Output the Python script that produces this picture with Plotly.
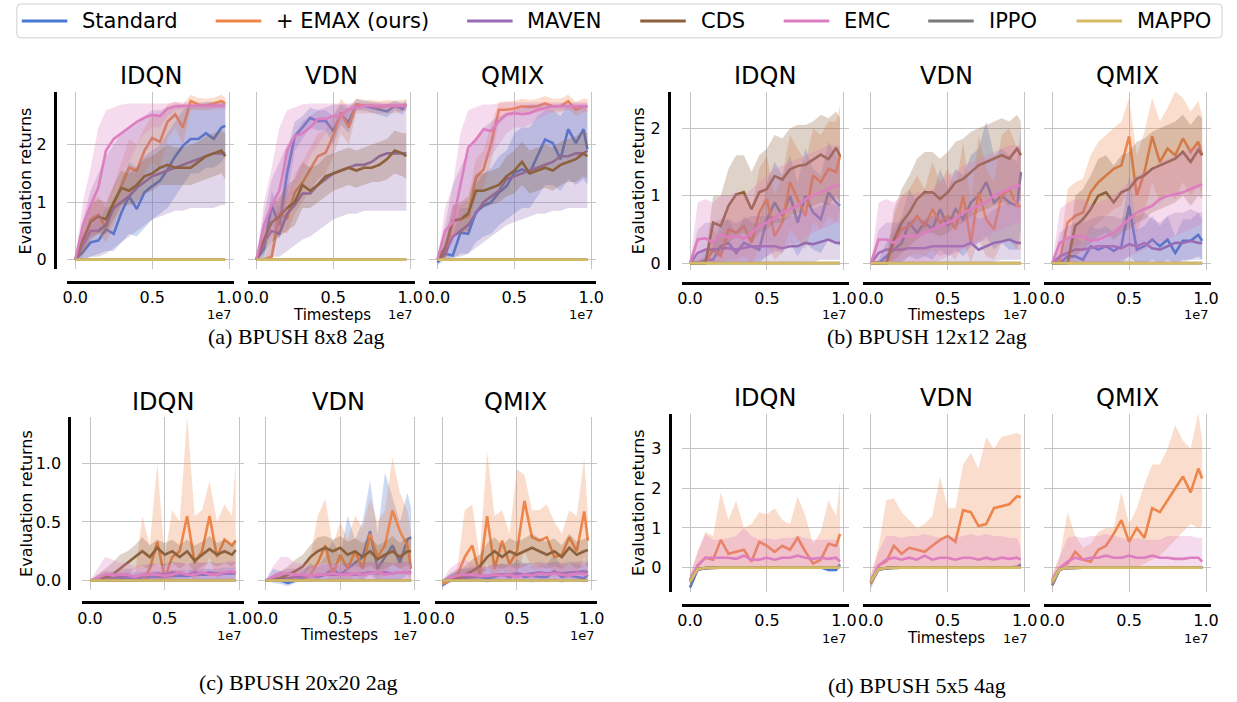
import plotly.graph_objects as go

W, H = 1237, 702

# ---------------- data ----------------
T_MILLIONS = [0, 0.5, 1, 1.5, 2, 2.5, 3, 3.5, 4, 4.5, 5, 5.5, 6, 6.5, 7, 7.5, 8, 8.5, 9, 9.5, 9.75]
TIMESTEPS = [t * 1e6 for t in T_MILLIONS]

SERIES = ["Standard", "+ EMAX (ours)", "MAVEN", "CDS", "EMC", "IPPO", "MAPPO"]
SERIES_KEYS = ["STD", "EMAX", "MAVEN", "CDS", "EMC", "IPPO", "MAPPO"]
ALGOS = ["IDQN", "VDN", "QMIX"]

ZERO = [0] * 21
D_BASE = [-0.35, -0.04, -0.01, 0, 0, 0, 0, 0, 0, 0, 0, 0, 0, 0, 0, 0, 0, 0, 0, 0, 0]
D_BASE_LO = [-0.45, -0.08, -0.03, -0.02, -0.02, -0.02, -0.02, -0.02, -0.02, -0.02, -0.02, -0.02, -0.02, -0.02, -0.02, -0.02, -0.02, -0.02, -0.02, -0.02, -0.02]
D_BASE_HI = [-0.25, 0, 0.01, 0.02, 0.02, 0.02, 0.02, 0.02, 0.02, 0.02, 0.02, 0.02, 0.02, 0.02, 0.02, 0.02, 0.02, 0.02, 0.02, 0.02, 0.02]

# (a) BPUSH 8x8 2ag
A_IDQN_STD = [0, 0.13, 0.3, 0.33, 0.53, 0.45, 0.82, 1.1, 0.88, 1.17, 1.28, 1.37, 1.57, 1.8, 1.98, 2.1, 2.1, 2.2, 2.1, 2.3, 2.33]
A_IDQN_STD_LO = [0, 0, 0.05, 0.1, 0.15, 0.15, 0.3, 0.45, 0.4, 0.55, 0.7, 0.8, 0.9, 1.1, 1.3, 1.5, 1.5, 1.6, 1.6, 1.7, 1.8]
A_IDQN_STD_HI = [0, 0.35, 0.6, 0.7, 0.9, 0.95, 1.4, 1.7, 1.6, 1.8, 1.9, 2.0, 2.2, 2.4, 2.6, 2.7, 2.7, 2.75, 2.75, 2.75, 2.75]
A_IDQN_EMAX = [0, 0.25, 0.7, 0.78, 0.55, 0.95, 1.28, 1.6, 1.55, 1.9, 2.12, 2.05, 2.4, 2.53, 2.3, 2.76, 2.7, 2.68, 2.72, 2.76, 2.72]
A_IDQN_EMAX_LO = [0, 0.05, 0.4, 0.45, 0.3, 0.6, 0.9, 1.1, 1.2, 1.5, 1.7, 1.6, 2.1, 2.3, 2.0, 2.6, 2.6, 2.6, 2.62, 2.65, 2.62]
A_IDQN_EMAX_HI = [0, 0.45, 1.0, 1.1, 0.9, 1.3, 1.7, 2.1, 2.0, 2.3, 2.5, 2.5, 2.7, 2.75, 2.7, 2.87, 2.82, 2.8, 2.82, 2.87, 2.82]
A_IDQN_MAVEN = [0, 0.25, 0.5, 0.5, 0.6, 0.9, 1.0, 1.1, 1.25, 1.35, 1.45, 1.5, 1.55, 1.6, 1.65, 1.7, 1.75, 1.8, 1.85, 1.85, 1.85]
A_IDQN_MAVEN_LO = [0, 0, 0.05, 0.05, 0.1, 0.2, 0.3, 0.4, 0.5, 0.6, 0.7, 0.75, 0.8, 0.85, 0.85, 0.9, 0.9, 0.9, 0.9, 0.95, 0.95]
A_IDQN_MAVEN_HI = [0, 0.7, 1.2, 1.5, 1.8, 2.0, 2.2, 2.3, 2.4, 2.5, 2.6, 2.6, 2.65, 2.7, 2.7, 2.7, 2.7, 2.72, 2.72, 2.72, 2.72]
A_IDQN_CDS = [0, 0.35, 0.65, 0.75, 0.7, 1.0, 1.25, 1.2, 1.3, 1.45, 1.5, 1.6, 1.65, 1.6, 1.6, 1.6, 1.7, 1.8, 1.85, 1.9, 1.8]
A_IDQN_CDS_LO = [0, 0.1, 0.35, 0.45, 0.45, 0.7, 0.95, 0.95, 1.0, 1.15, 1.2, 1.3, 1.3, 1.3, 1.3, 1.3, 1.35, 1.4, 1.45, 1.5, 1.4]
A_IDQN_CDS_HI = [0, 0.6, 0.95, 1.05, 1.0, 1.3, 1.55, 1.5, 1.6, 1.75, 1.8, 1.9, 2.0, 1.95, 1.95, 2.0, 2.05, 2.15, 2.2, 2.25, 2.2]
A_IDQN_EMC = [0, 0.6, 0.95, 1.25, 1.9, 2.1, 2.2, 2.3, 2.4, 2.47, 2.52, 2.5, 2.63, 2.67, 2.68, 2.68, 2.68, 2.68, 2.68, 2.68, 2.68]
A_IDQN_EMC_LO = [0, 0.2, 0.4, 0.5, 0.9, 1.2, 1.5, 1.7, 2.0, 2.2, 2.3, 2.3, 2.5, 2.6, 2.62, 2.62, 2.62, 2.62, 2.62, 2.62, 2.62]
A_IDQN_EMC_HI = [0, 1.0, 1.6, 2.3, 2.6, 2.65, 2.7, 2.72, 2.72, 2.72, 2.72, 2.72, 2.72, 2.74, 2.74, 2.74, 2.74, 2.74, 2.74, 2.74, 2.74]

A_VDN_STD = [0, 0.2, 0.94, 0.6, 1.5, 2.15, 2.3, 2.47, 2.41, 2.42, 2.24, 2.53, 2.39, 2.7, 2.68, 2.65, 2.62, 2.58, 2.68, 2.62, 2.7]
A_VDN_STD_LO = [0, 0.05, 0.6, 0.35, 1.1, 1.9, 2.1, 2.3, 2.25, 2.25, 2.0, 2.35, 2.2, 2.6, 2.6, 2.55, 2.52, 2.48, 2.6, 2.52, 2.62]
A_VDN_STD_HI = [0, 0.4, 1.2, 0.9, 1.9, 2.4, 2.5, 2.65, 2.6, 2.6, 2.5, 2.7, 2.6, 2.8, 2.77, 2.75, 2.72, 2.7, 2.77, 2.72, 2.78]
A_VDN_EMAX = [0, 0, 0.05, 0.8, 0.72, 1.17, 1.34, 1.57, 1.8, 1.86, 2.15, 2.56, 2.3, 2.7, 2.68, 2.68, 2.66, 2.68, 2.67, 2.68, 2.7]
A_VDN_EMAX_LO = [0, 0, 0, 0.5, 0.45, 0.8, 1.0, 1.2, 1.4, 1.5, 1.8, 2.2, 2.0, 2.55, 2.55, 2.55, 2.55, 2.55, 2.55, 2.58, 2.6]
A_VDN_EMAX_HI = [0, 0.05, 0.3, 1.1, 1.1, 1.5, 1.7, 1.95, 2.2, 2.25, 2.5, 2.8, 2.65, 2.8, 2.78, 2.78, 2.76, 2.78, 2.77, 2.78, 2.8]
A_VDN_MAVEN = [0, 0.3, 0.5, 0.45, 0.8, 0.95, 1.15, 1.15, 1.3, 1.4, 1.5, 1.55, 1.6, 1.65, 1.65, 1.7, 1.8, 1.85, 1.85, 1.85, 1.85]
A_VDN_MAVEN_LO = [0, 0, 0.05, 0.05, 0.15, 0.25, 0.35, 0.4, 0.5, 0.6, 0.7, 0.75, 0.8, 0.8, 0.85, 0.85, 0.85, 0.85, 0.85, 0.85, 0.85]
A_VDN_MAVEN_HI = [0, 0.8, 1.4, 1.7, 2.0, 2.2, 2.4, 2.5, 2.6, 2.65, 2.7, 2.7, 2.7, 2.7, 2.7, 2.7, 2.7, 2.72, 2.72, 2.72, 2.72]
A_VDN_CDS = [0, 0.35, 0.65, 0.75, 0.9, 1.0, 1.3, 1.2, 1.3, 1.45, 1.5, 1.55, 1.6, 1.55, 1.6, 1.6, 1.65, 1.75, 1.9, 1.85, 1.8]
A_VDN_CDS_LO = [0, 0.1, 0.3, 0.4, 0.5, 0.6, 0.9, 0.9, 1.0, 1.1, 1.2, 1.25, 1.3, 1.25, 1.3, 1.35, 1.35, 1.4, 1.5, 1.45, 1.4]
A_VDN_CDS_HI = [0, 0.6, 0.95, 1.1, 1.3, 1.4, 1.7, 1.6, 1.65, 1.8, 1.85, 1.9, 1.95, 1.9, 1.95, 2.0, 2.05, 2.1, 2.25, 2.2, 2.2]
A_VDN_EMC = [0, 0.6, 0.95, 1.2, 1.9, 2.15, 2.2, 2.3, 2.45, 2.45, 2.5, 2.5, 2.62, 2.65, 2.68, 2.68, 2.68, 2.68, 2.68, 2.68, 2.68]
A_VDN_EMC_LO = [0, 0.2, 0.4, 0.5, 0.9, 1.3, 1.5, 1.8, 2.0, 2.2, 2.3, 2.35, 2.5, 2.6, 2.62, 2.62, 2.62, 2.62, 2.62, 2.62, 2.62]
A_VDN_EMC_HI = [0, 1.0, 1.6, 2.3, 2.6, 2.65, 2.7, 2.72, 2.72, 2.72, 2.72, 2.72, 2.72, 2.74, 2.74, 2.74, 2.74, 2.74, 2.74, 2.74, 2.74]

A_QMIX_STD = [-0.05, 0.1, 0.07, 0.47, 0.45, 0.82, 0.94, 1.0, 1.17, 1.28, 1.51, 1.57, 1.51, 1.8, 2.09, 2.03, 1.75, 2.27, 2.03, 2.27, 1.92]
A_QMIX_STD_LO = [-0.1, 0, 0, 0.1, 0.1, 0.3, 0.4, 0.45, 0.6, 0.7, 0.8, 0.9, 0.9, 1.1, 1.3, 1.3, 1.2, 1.4, 1.3, 1.4, 1.3]
A_QMIX_STD_HI = [0, 0.3, 0.4, 0.9, 0.9, 1.3, 1.5, 1.6, 1.8, 1.9, 2.2, 2.3, 2.3, 2.5, 2.6, 2.6, 2.5, 2.7, 2.6, 2.7, 2.6]
A_QMIX_EMAX = [0, 0.07, 0.68, 0.7, 0.76, 1.43, 1.57, 2.03, 2.61, 2.61, 2.63, 2.67, 2.66, 2.67, 2.72, 2.67, 2.67, 2.76, 2.61, 2.67, 2.67]
A_QMIX_EMAX_LO = [0, 0, 0.4, 0.45, 0.5, 1.1, 1.25, 1.7, 2.45, 2.5, 2.52, 2.56, 2.55, 2.56, 2.6, 2.56, 2.56, 2.63, 2.5, 2.56, 2.56]
A_QMIX_EMAX_HI = [0, 0.2, 0.95, 0.95, 1.05, 1.75, 1.9, 2.35, 2.75, 2.75, 2.76, 2.8, 2.78, 2.8, 2.85, 2.8, 2.8, 2.87, 2.75, 2.8, 2.8]
A_QMIX_MAVEN = [0, 0.1, 0.4, 0.5, 0.6, 0.8, 1.0, 1.1, 1.2, 1.4, 1.45, 1.5, 1.55, 1.6, 1.65, 1.7, 1.8, 1.8, 1.85, 1.85, 1.9]
A_QMIX_MAVEN_LO = [0, 0, 0.05, 0.05, 0.1, 0.2, 0.3, 0.4, 0.5, 0.6, 0.65, 0.7, 0.75, 0.8, 0.8, 0.85, 0.85, 0.9, 0.9, 0.9, 0.9]
A_QMIX_MAVEN_HI = [0, 0.6, 1.3, 1.6, 1.9, 2.1, 2.3, 2.4, 2.5, 2.55, 2.6, 2.65, 2.7, 2.7, 2.7, 2.7, 2.72, 2.72, 2.72, 2.72, 2.72]
A_QMIX_CDS = [0, 0.2, 0.68, 0.7, 0.8, 1.2, 1.2, 1.25, 1.3, 1.45, 1.55, 1.7, 1.5, 1.55, 1.6, 1.55, 1.65, 1.7, 1.75, 1.85, 1.8]
A_QMIX_CDS_LO = [0, 0.05, 0.4, 0.45, 0.5, 0.85, 0.9, 0.95, 1.0, 1.1, 1.15, 1.3, 1.15, 1.2, 1.25, 1.2, 1.3, 1.35, 1.35, 1.45, 1.4]
A_QMIX_CDS_HI = [0, 0.4, 0.95, 1.0, 1.1, 1.5, 1.5, 1.55, 1.6, 1.8, 1.9, 2.05, 1.9, 1.95, 2.0, 1.95, 2.05, 2.1, 2.15, 2.25, 2.2]
A_QMIX_EMC = [0, 0.5, 0.65, 1.28, 1.95, 2.09, 2.27, 2.24, 2.41, 2.53, 2.55, 2.53, 2.55, 2.61, 2.64, 2.67, 2.67, 2.67, 2.67, 2.67, 2.67]
A_QMIX_EMC_LO = [0, 0.15, 0.3, 0.6, 1.1, 1.4, 1.7, 1.8, 2.0, 2.2, 2.3, 2.3, 2.35, 2.45, 2.5, 2.58, 2.6, 2.6, 2.6, 2.6, 2.6]
A_QMIX_EMC_HI = [0, 0.9, 1.3, 2.2, 2.6, 2.65, 2.7, 2.7, 2.72, 2.74, 2.74, 2.74, 2.74, 2.74, 2.74, 2.74, 2.74, 2.74, 2.74, 2.74, 2.74]

# (b) BPUSH 12x12 2ag
B_IDQN_STD = [0, 0, 0.05, 0.05, 0.25, 0.3, 0.15, 0.3, 0.25, 0.2, 0.65, 0.9, 0.7, 1.0, 0.6, 1.0, 0.75, 0.65, 1.05, 0.9, 0.85]
B_IDQN_STD_LO = [0, 0, 0, 0, 0, 0, 0, 0, 0, 0, 0.1, 0.2, 0.15, 0.3, 0.1, 0.3, 0.2, 0.15, 0.35, 0.3, 0.25]
B_IDQN_STD_HI = [0, 0.1, 0.2, 0.25, 0.6, 0.65, 0.45, 0.7, 0.6, 0.6, 1.2, 1.5, 1.3, 1.6, 1.2, 1.7, 1.4, 1.3, 1.8, 1.6, 1.5]
B_IDQN_EMAX = [0, 0, 0, 0.2, 0.1, 0.5, 0.45, 0.55, 0.3, 0.75, 0.95, 0.4, 0.6, 1.2, 0.95, 0.7, 1.3, 1.2, 1.4, 1.35, 1.6]
B_IDQN_EMAX_LO = [0, 0, 0, 0, 0, 0.05, 0.05, 0.1, 0, 0.2, 0.3, 0.05, 0.15, 0.5, 0.35, 0.2, 0.6, 0.5, 0.7, 0.6, 0.8]
B_IDQN_EMAX_HI = [0, 0.05, 0.1, 0.5, 0.4, 0.9, 1.0, 1.1, 0.8, 1.4, 1.6, 1.0, 1.3, 1.9, 1.7, 1.5, 2.0, 1.9, 2.1, 2.1, 2.35]
B_IDQN_MAVEN = [0, 0.15, 0.2, 0.2, 0.22, 0.22, 0.2, 0.22, 0.25, 0.25, 0.25, 0.25, 0.22, 0.25, 0.25, 0.3, 0.28, 0.32, 0.35, 0.3, 0.3]
B_IDQN_MAVEN_LO = [0, 0, 0, 0, 0, 0, 0, 0, 0, 0, 0, 0, 0, 0, 0, 0.02, 0.02, 0.05, 0.05, 0.05, 0.05]
B_IDQN_MAVEN_HI = [0, 0.5, 0.6, 0.6, 0.65, 0.65, 0.6, 0.65, 0.7, 0.7, 0.7, 0.7, 0.65, 0.7, 0.7, 0.8, 0.8, 0.85, 0.9, 0.85, 0.85]
B_IDQN_CDS = [0, 0, 0, 0.6, 0.55, 0.85, 1.02, 1.05, 0.8, 1.05, 1.1, 1.29, 1.24, 1.39, 1.44, 1.46, 1.54, 1.61, 1.54, 1.71, 1.59]
B_IDQN_CDS_LO = [0, 0, 0, 0.15, 0.1, 0.3, 0.4, 0.45, 0.3, 0.45, 0.5, 0.6, 0.6, 0.7, 0.75, 0.8, 0.85, 0.9, 0.85, 1.0, 0.9]
B_IDQN_CDS_HI = [0, 0, 0.05, 1.0, 1.0, 1.4, 1.6, 1.6, 1.35, 1.6, 1.7, 1.9, 1.85, 2.0, 2.05, 2.05, 2.1, 2.2, 2.15, 2.25, 2.15]
B_IDQN_EMC = [0, 0.35, 0.37, 0.3, 0.42, 0.38, 0.4, 0.36, 0.45, 0.55, 0.6, 0.68, 0.75, 0.8, 0.85, 0.95, 1.0, 1.05, 1.1, 1.15, 1.15]
B_IDQN_EMC_LO = [0, 0, 0, 0, 0, 0, 0, 0, 0, 0.05, 0.1, 0.15, 0.2, 0.25, 0.3, 0.4, 0.45, 0.5, 0.55, 0.6, 0.6]
B_IDQN_EMC_HI = [0, 0.9, 0.95, 0.9, 1.0, 1.0, 1.05, 1.0, 1.1, 1.2, 1.3, 1.4, 1.45, 1.5, 1.55, 1.6, 1.65, 1.7, 1.75, 1.75, 1.75]

B_VDN_STD = [0, 0, 0.1, 0.2, 0.3, 0.6, 0.45, 0.6, 0.5, 0.8, 0.55, 0.8, 0.65, 0.9, 1.0, 1.2, 0.9, 1.0, 0.9, 0.85, 1.35]
B_VDN_STD_LO = [0, 0, 0, 0, 0, 0.1, 0.05, 0.1, 0.05, 0.2, 0.1, 0.2, 0.1, 0.25, 0.3, 0.4, 0.2, 0.3, 0.2, 0.2, 0.5]
B_VDN_STD_HI = [0, 0.05, 0.3, 0.5, 0.7, 1.1, 0.9, 1.1, 1.0, 1.4, 1.1, 1.4, 1.3, 1.6, 1.7, 2.1, 1.6, 1.7, 1.6, 1.5, 2.0]
B_VDN_EMAX = [0, 0, 0, 0.3, 0.5, 0.55, 0.7, 0.55, 0.8, 0.6, 0.7, 0.5, 1.0, 0.3, 1.05, 0.65, 0.5, 1.0, 1.1, 0.85, 0.85]
B_VDN_EMAX_LO = [0, 0, 0, 0, 0.05, 0.1, 0.15, 0.1, 0.2, 0.1, 0.15, 0.05, 0.3, 0, 0.35, 0.1, 0.05, 0.3, 0.35, 0.2, 0.2]
B_VDN_EMAX_HI = [0, 0, 0.05, 0.7, 1.0, 1.1, 1.3, 1.1, 1.5, 1.2, 1.4, 1.1, 1.8, 0.9, 1.9, 1.4, 1.2, 1.9, 2.0, 1.7, 1.7]
B_VDN_MAVEN = [0, 0.15, 0.2, 0.2, 0.2, 0.22, 0.22, 0.22, 0.25, 0.25, 0.25, 0.25, 0.25, 0.3, 0.2, 0.25, 0.3, 0.32, 0.35, 0.3, 0.3]
B_VDN_MAVEN_LO = [0, 0, 0, 0, 0, 0, 0, 0, 0, 0, 0, 0, 0, 0.02, 0, 0, 0.02, 0.05, 0.05, 0.05, 0.05]
B_VDN_MAVEN_HI = [0, 0.5, 0.6, 0.6, 0.6, 0.65, 0.65, 0.65, 0.7, 0.7, 0.7, 0.7, 0.7, 0.8, 0.65, 0.7, 0.8, 0.85, 0.9, 0.85, 0.85]
B_VDN_CDS = [0, 0, 0, 0.35, 0.6, 0.75, 0.95, 1.05, 1.05, 0.95, 1.05, 1.2, 1.25, 1.35, 1.45, 1.5, 1.55, 1.6, 1.55, 1.7, 1.6]
B_VDN_CDS_LO = [0, 0, 0, 0.05, 0.15, 0.25, 0.35, 0.45, 0.45, 0.4, 0.45, 0.55, 0.6, 0.7, 0.75, 0.8, 0.85, 0.9, 0.85, 1.0, 0.9]
B_VDN_CDS_HI = [0, 0, 0.05, 0.8, 1.1, 1.3, 1.55, 1.65, 1.65, 1.55, 1.65, 1.8, 1.85, 1.95, 2.0, 2.05, 2.1, 2.15, 2.1, 2.2, 2.1]
B_VDN_EMC = [0, 0.35, 0.35, 0.3, 0.4, 0.4, 0.4, 0.45, 0.5, 0.55, 0.6, 0.65, 0.75, 0.8, 0.85, 0.9, 1.0, 1.05, 1.1, 1.15, 1.15]
B_VDN_EMC_LO = [0, 0, 0, 0, 0, 0, 0, 0, 0, 0.05, 0.1, 0.15, 0.2, 0.25, 0.3, 0.35, 0.45, 0.5, 0.55, 0.6, 0.6]
B_VDN_EMC_HI = [0, 0.9, 0.95, 0.9, 1.0, 1.0, 1.05, 1.05, 1.1, 1.2, 1.3, 1.35, 1.45, 1.5, 1.55, 1.6, 1.65, 1.7, 1.75, 1.75, 1.75]

B_QMIX_STD = [0, 0, 0.1, 0.1, 0.05, 0.25, 0.2, 0.25, 0.18, 0.25, 0.85, 0.2, 0.25, 0.35, 0.25, 0.35, 0.15, 0.33, 0.33, 0.42, 0.33]
B_QMIX_STD_LO = [0, 0, 0, 0, 0, 0, 0, 0, 0, 0, 0.1, 0, 0, 0.05, 0, 0.05, 0, 0.05, 0.05, 0.1, 0.05]
B_QMIX_STD_HI = [0, 0.05, 0.4, 0.4, 0.3, 0.55, 0.5, 0.55, 0.45, 0.55, 1.3, 0.5, 0.55, 0.7, 0.55, 0.7, 0.4, 0.65, 0.65, 0.75, 0.65]
B_QMIX_EMAX = [0, 0.05, 0.6, 0.7, 0.75, 1.05, 1.2, 1.3, 1.4, 1.45, 1.88, 1.0, 1.35, 1.88, 1.5, 1.7, 1.6, 1.85, 1.65, 1.8, 1.6]
B_QMIX_EMAX_LO = [0, 0, 0.15, 0.25, 0.3, 0.5, 0.6, 0.7, 0.8, 0.85, 1.2, 0.45, 0.75, 1.2, 0.9, 1.05, 0.95, 1.2, 1.0, 1.15, 1.0]
B_QMIX_EMAX_HI = [0, 0.15, 1.1, 1.2, 1.25, 1.6, 1.8, 1.9, 2.0, 2.1, 2.45, 1.6, 1.95, 2.45, 2.1, 2.3, 2.55, 2.45, 2.25, 2.4, 2.2]
B_QMIX_MAVEN = [0, 0.1, 0.15, 0.2, 0.2, 0.22, 0.25, 0.25, 0.25, 0.22, 0.28, 0.25, 0.3, 0.22, 0.2, 0.25, 0.3, 0.3, 0.33, 0.3, 0.3]
B_QMIX_MAVEN_LO = [0, 0, 0, 0, 0, 0, 0, 0, 0, 0, 0, 0, 0, 0, 0, 0, 0.02, 0.02, 0.05, 0.05, 0.05]
B_QMIX_MAVEN_HI = [0, 0.45, 0.55, 0.6, 0.6, 0.65, 0.7, 0.7, 0.7, 0.65, 0.75, 0.7, 0.75, 0.65, 0.6, 0.7, 0.75, 0.75, 0.8, 0.75, 0.75]
B_QMIX_CDS = [0, 0, 0, 0.55, 0.65, 0.8, 1.0, 1.05, 0.9, 1.05, 1.1, 1.25, 1.3, 1.4, 1.45, 1.5, 1.55, 1.65, 1.5, 1.68, 1.6]
B_QMIX_CDS_LO = [0, 0, 0, 0.1, 0.2, 0.3, 0.4, 0.45, 0.35, 0.45, 0.5, 0.6, 0.65, 0.75, 0.8, 0.85, 0.9, 1.0, 0.85, 1.0, 0.95]
B_QMIX_CDS_HI = [0, 0, 0.05, 1.0, 1.1, 1.3, 1.55, 1.6, 1.45, 1.6, 1.65, 1.8, 1.85, 1.95, 2.0, 2.05, 2.1, 2.2, 2.05, 2.2, 2.15]
B_QMIX_EMC = [0, 0.3, 0.37, 0.4, 0.4, 0.33, 0.35, 0.4, 0.45, 0.55, 0.65, 0.75, 0.8, 0.85, 0.95, 1.0, 1.02, 1.05, 1.1, 1.15, 1.17]
B_QMIX_EMC_LO = [0, 0, 0, 0, 0, 0, 0, 0, 0, 0.05, 0.1, 0.15, 0.2, 0.25, 0.3, 0.35, 0.4, 0.45, 0.5, 0.55, 0.6]
B_QMIX_EMC_HI = [0, 0.8, 0.9, 0.95, 0.95, 0.85, 0.9, 0.95, 1.0, 1.1, 1.2, 1.3, 1.35, 1.4, 1.5, 1.55, 1.6, 1.65, 1.7, 1.75, 1.75]

# (c) BPUSH 20x20 2ag
C_IDQN_STD = [0, 0, 0, 0.01, 0.01, 0.02, 0.02, 0.02, 0.03, 0.03, 0.03, 0.04, 0.04, 0.04, 0.05, 0.05, 0.05, 0.05, 0.06, 0.06, 0.06]
C_IDQN_STD_HI = [0, 0.03, 0.05, 0.06, 0.06, 0.07, 0.07, 0.07, 0.08, 0.08, 0.08, 0.09, 0.09, 0.09, 0.1, 0.1, 0.1, 0.1, 0.11, 0.11, 0.11]
C_IDQN_EMAX = [0, 0, 0, 0, 0, 0, 0, 0, 0.1, 0.33, 0.02, 0.2, 0.25, 0.55, 0.15, 0.25, 0.55, 0.2, 0.35, 0.3, 0.34]
C_IDQN_EMAX_LO = [0, 0, 0, 0, 0, 0, 0, 0, 0, 0, 0, 0, 0.05, 0.1, 0, 0.05, 0.2, 0, 0.1, 0.1, 0.1]
C_IDQN_EMAX_HI = [0, 0, 0, 0, 0, 0, 0.05, 0.55, 0.3, 1.0, 0.2, 0.6, 0.5, 1.4, 0.55, 0.6, 0.85, 0.5, 0.65, 0.55, 1.02]
C_IDQN_MAVEN = [0, 0.01, 0.02, 0.02, 0.03, 0.03, 0.03, 0.04, 0.05, 0.06, 0.05, 0.07, 0.06, 0.05, 0.07, 0.06, 0.07, 0.06, 0.06, 0.07, 0.07]
C_IDQN_MAVEN_HI = [0, 0.05, 0.08, 0.08, 0.1, 0.1, 0.1, 0.12, 0.14, 0.15, 0.14, 0.16, 0.15, 0.14, 0.16, 0.15, 0.16, 0.15, 0.15, 0.16, 0.16]
C_IDQN_CDS = [0, 0.01, 0.03, 0.05, 0.1, 0.15, 0.2, 0.25, 0.2, 0.28, 0.22, 0.25, 0.2, 0.25, 0.17, 0.22, 0.27, 0.22, 0.25, 0.22, 0.26]
C_IDQN_CDS_LO = [0, 0, 0, 0, 0, 0.05, 0.1, 0.12, 0.1, 0.15, 0.12, 0.15, 0.1, 0.15, 0.08, 0.12, 0.15, 0.12, 0.15, 0.12, 0.15]
C_IDQN_CDS_HI = [0, 0.05, 0.1, 0.15, 0.22, 0.25, 0.3, 0.37, 0.3, 0.35, 0.32, 0.35, 0.3, 0.35, 0.3, 0.33, 0.38, 0.32, 0.35, 0.3, 0.36]
C_IDQN_EMC = [0, 0.02, 0.05, 0.05, 0.05, 0.05, 0.03, 0.05, 0.05, 0.05, 0.04, 0.05, 0.07, 0.05, 0.05, 0.07, 0.05, 0.05, 0.07, 0.08, 0.06]
C_IDQN_EMC_HI = [0, 0.1, 0.2, 0.18, 0.15, 0.15, 0.12, 0.14, 0.14, 0.14, 0.12, 0.14, 0.16, 0.14, 0.14, 0.16, 0.14, 0.14, 0.16, 0.17, 0.15]

C_VDN_STD = [0, 0.02, 0, -0.02, 0, 0.02, 0.05, 0.03, 0.05, 0.1, 0.05, 0.1, 0.15, 0.2, 0.42, 0.1, 0.2, 0.3, 0.15, 0.35, 0.37]
C_VDN_STD_LO = [0, -0.02, -0.03, -0.05, -0.02, 0, 0, 0, 0, 0, 0, 0, 0, 0, 0.05, 0, 0, 0, 0, 0.05, 0.05]
C_VDN_STD_HI = [0, 0.1, 0.08, 0.03, 0.05, 0.08, 0.15, 0.12, 0.2, 0.35, 0.2, 0.55, 0.35, 0.5, 0.85, 0.4, 0.92, 0.7, 0.5, 0.75, 0.62]
C_VDN_EMAX = [0, 0, 0, 0, 0, 0, 0.05, 0.15, 0.3, 0.05, 0.22, 0.1, 0.25, 0.1, 0.4, 0.2, 0.3, 0.6, 0.42, 0.3, 0.1]
C_VDN_EMAX_LO = [0, 0, 0, 0, 0, 0, 0, 0, 0.05, 0, 0.02, 0, 0.05, 0, 0.1, 0, 0.05, 0.15, 0.1, 0.05, 0]
C_VDN_EMAX_HI = [0, 0, 0, 0, 0, 0.05, 0.2, 0.55, 0.7, 0.3, 0.5, 0.35, 0.55, 0.45, 0.7, 0.5, 0.6, 1.05, 0.75, 0.6, 0.4]
C_VDN_MAVEN = [0, 0.01, 0.02, 0.02, 0.03, 0.03, 0.04, 0.04, 0.05, 0.05, 0.05, 0.06, 0.05, 0.06, 0.07, 0.06, 0.07, 0.06, 0.07, 0.07, 0.07]
C_VDN_MAVEN_HI = [0, 0.05, 0.08, 0.1, 0.1, 0.1, 0.12, 0.12, 0.14, 0.14, 0.14, 0.15, 0.14, 0.15, 0.16, 0.15, 0.16, 0.15, 0.16, 0.16, 0.16]
C_VDN_CDS = [0, 0, 0.02, 0.05, 0.08, 0.12, 0.2, 0.25, 0.28, 0.25, 0.28, 0.22, 0.25, 0.2, 0.25, 0.18, 0.22, 0.25, 0.2, 0.25, 0.25]
C_VDN_CDS_LO = [0, 0, 0, 0, 0, 0.04, 0.1, 0.13, 0.15, 0.13, 0.15, 0.1, 0.13, 0.1, 0.13, 0.08, 0.1, 0.13, 0.1, 0.13, 0.13]
C_VDN_CDS_HI = [0, 0.05, 0.08, 0.12, 0.18, 0.22, 0.3, 0.37, 0.38, 0.35, 0.38, 0.33, 0.36, 0.32, 0.37, 0.3, 0.33, 0.38, 0.32, 0.37, 0.36]
C_VDN_EMC = [0, 0.03, 0.06, 0.06, 0.05, 0.05, 0.04, 0.05, 0.05, 0.06, 0.05, 0.05, 0.06, 0.05, 0.06, 0.07, 0.05, 0.06, 0.07, 0.07, 0.06]
C_VDN_EMC_HI = [0, 0.12, 0.2, 0.2, 0.15, 0.14, 0.12, 0.14, 0.14, 0.15, 0.14, 0.14, 0.15, 0.14, 0.15, 0.16, 0.14, 0.15, 0.16, 0.16, 0.15]

C_QMIX_STD = [-0.04, 0, 0.02, 0.02, 0.03, 0.03, 0.02, 0.03, 0.05, 0.03, 0.06, 0.03, 0.04, 0.03, 0.03, 0.08, 0.03, 0.04, 0.03, 0.02, 0.05]
C_QMIX_STD_LO = [-0.06, -0.02, 0, 0, 0, 0, -0.02, 0, 0, 0, 0, 0, -0.02, 0, 0, 0, -0.02, 0, 0, -0.02, 0]
C_QMIX_STD_HI = [0, 0.05, 0.08, 0.1, 0.1, 0.1, 0.1, 0.12, 0.15, 0.12, 0.18, 0.15, 0.15, 0.12, 0.14, 0.22, 0.12, 0.15, 0.14, 0.12, 0.16]
C_QMIX_EMAX = [-0.03, 0, 0.04, 0.2, 0.3, 0.05, 0.55, 0.1, 0.34, 0.14, 0.25, 0.68, 0.37, 0.34, 0.37, 0.2, 0.22, 0.37, 0.25, 0.59, 0.34]
C_QMIX_EMAX_LO = [-0.04, 0, 0, 0.05, 0.1, 0, 0.15, 0, 0.1, 0, 0.05, 0.25, 0.1, 0.1, 0.15, 0.05, 0.05, 0.1, 0.05, 0.2, 0.1]
C_QMIX_EMAX_HI = [0, 0.02, 0.1, 0.6, 0.65, 0.2, 1.1, 0.55, 0.6, 0.4, 0.95, 0.9, 0.6, 0.6, 0.65, 0.5, 0.4, 0.6, 0.55, 1.05, 0.55]
C_QMIX_MAVEN = [0, 0.01, 0.02, 0.03, 0.03, 0.04, 0.04, 0.05, 0.05, 0.05, 0.06, 0.05, 0.06, 0.07, 0.06, 0.07, 0.06, 0.07, 0.07, 0.08, 0.07]
C_QMIX_MAVEN_HI = [0, 0.06, 0.1, 0.1, 0.12, 0.12, 0.12, 0.14, 0.14, 0.14, 0.15, 0.14, 0.15, 0.16, 0.15, 0.16, 0.15, 0.16, 0.16, 0.17, 0.16]
C_QMIX_CDS = [0, 0.01, 0.02, 0.05, 0.08, 0.12, 0.2, 0.25, 0.2, 0.25, 0.22, 0.25, 0.28, 0.25, 0.22, 0.25, 0.2, 0.28, 0.22, 0.25, 0.26]
C_QMIX_CDS_LO = [0, 0, 0, 0, 0, 0.03, 0.1, 0.12, 0.1, 0.12, 0.1, 0.12, 0.15, 0.12, 0.1, 0.12, 0.1, 0.15, 0.1, 0.12, 0.13]
C_QMIX_CDS_HI = [0, 0.05, 0.08, 0.12, 0.18, 0.22, 0.32, 0.37, 0.3, 0.36, 0.33, 0.36, 0.4, 0.36, 0.33, 0.36, 0.3, 0.4, 0.33, 0.36, 0.37]
C_QMIX_EMC = [0, 0.02, 0.04, 0.05, 0.05, 0.04, 0.04, 0.05, 0.04, 0.05, 0.03, 0.05, 0.04, 0.06, 0.05, 0.06, 0.05, 0.04, 0.06, 0.05, 0.05]
C_QMIX_EMC_HI = [0, 0.1, 0.15, 0.18, 0.15, 0.12, 0.12, 0.14, 0.12, 0.14, 0.12, 0.14, 0.12, 0.15, 0.14, 0.15, 0.14, 0.12, 0.15, 0.14, 0.14]

# (d) BPUSH 5x5 4ag
D_IDQN_STD = [-0.5, -0.05, -0.02, 0, 0, 0, 0, 0, 0, 0, 0, 0, 0, 0, 0, 0, 0, 0, -0.05, -0.05, 0.08]
D_IDQN_STD_LO = [-0.6, -0.1, -0.05, -0.02, -0.02, -0.02, -0.02, -0.02, -0.02, -0.02, -0.02, -0.02, -0.02, -0.02, -0.02, -0.02, -0.02, -0.02, -0.12, -0.12, 0.02]
D_IDQN_STD_HI = [-0.35, 0, 0.01, 0.02, 0.02, 0.02, 0.02, 0.02, 0.02, 0.02, 0.02, 0.02, 0.02, 0.02, 0.02, 0.02, 0.02, 0.02, 0.02, 0.02, 0.12]
D_IDQN_EMAX = [-0.35, 0.05, 0.25, 0.2, 0.7, 0.35, 0.4, 0.45, 0.15, 0.65, 0.55, 0.4, 0.55, 0.45, 0.75, 0.4, 0.1, 0.2, 0.6, 0.55, 0.85]
D_IDQN_EMAX_LO = [-0.5, -0.1, 0, -0.05, 0, 0, 0, 0, 0, 0, 0, 0, 0, 0, 0, 0, 0, 0, 0, 0, 0]
D_IDQN_EMAX_HI = [-0.2, 0.4, 0.9, 0.8, 1.9, 1.2, 1.7, 1.0, 1.1, 1.4, 1.35, 1.5, 1.2, 1.1, 1.8, 1.3, 0.6, 0.9, 1.7, 1.3, 2.2]
D_IDQN_EMC = [-0.3, 0.05, 0.25, 0.25, 0.25, 0.25, 0.22, 0.3, 0.2, 0.2, 0.25, 0.2, 0.25, 0.25, 0.3, 0.25, 0.22, 0.25, 0.22, 0.25, 0.15]
D_IDQN_EMC_LO = [-0.45, -0.1, 0, 0, 0, 0, 0, 0, 0, 0, 0, 0, 0, 0, 0, 0, 0, 0, 0, 0, 0]
D_IDQN_EMC_HI = [-0.2, 0.4, 0.85, 0.7, 0.7, 0.75, 0.8, 1.0, 0.8, 0.7, 0.75, 0.7, 0.75, 0.75, 0.8, 0.75, 0.7, 0.7, 0.7, 0.7, 0.5]

D_VDN_STD = [-0.4, -0.05, -0.02, 0, 0, 0, 0, 0, 0, 0, 0, 0, 0, 0, 0, 0, 0, 0, 0, 0.02, 0.08]
D_VDN_STD_LO = [-0.5, -0.1, -0.05, -0.02, -0.02, -0.02, -0.02, -0.02, -0.02, -0.02, -0.02, -0.02, -0.02, -0.02, -0.02, -0.02, -0.02, -0.02, -0.02, -0.02, 0.02]
D_VDN_STD_HI = [-0.3, 0, 0.01, 0.02, 0.02, 0.02, 0.02, 0.02, 0.02, 0.02, 0.02, 0.02, 0.02, 0.02, 0.02, 0.02, 0.02, 0.02, 0.02, 0.05, 0.12]
D_VDN_EMAX = [-0.4, 0.05, 0.15, 0.55, 0.35, 0.5, 0.45, 0.4, 0.55, 0.7, 0.8, 0.65, 1.45, 1.4, 1.05, 1.1, 1.5, 1.55, 1.6, 1.8, 1.78]
D_VDN_EMAX_LO = [-0.55, -0.1, -0.05, 0, 0, 0, 0, 0, 0, 0, 0, 0, 0, 0, 0, 0, 0, 0, 0, 0, 0]
D_VDN_EMAX_HI = [-0.2, 0.5, 1.7, 1.75, 1.4, 1.2, 1.0, 1.1, 1.3, 2.3, 1.5, 1.5, 2.6, 2.9, 2.5, 3.3, 3.0, 3.3, 3.35, 3.4, 3.35]
D_VDN_EMC = [-0.35, 0.05, 0.2, 0.25, 0.2, 0.25, 0.2, 0.3, 0.2, 0.25, 0.25, 0.2, 0.25, 0.25, 0.2, 0.25, 0.2, 0.25, 0.22, 0.25, 0.2]
D_VDN_EMC_LO = [-0.45, -0.1, 0, 0, 0, 0, 0, 0, 0, 0, 0, 0, 0, 0, 0, 0, 0, 0, 0, 0, 0]
D_VDN_EMC_HI = [-0.2, 0.4, 0.8, 0.8, 0.75, 0.8, 0.8, 0.85, 0.8, 0.75, 0.8, 0.75, 0.8, 0.85, 0.8, 0.85, 0.8, 0.8, 0.75, 0.75, 0.5]

D_QMIX_STD = [-0.45, -0.04, -0.01, 0, 0, 0, 0, 0, 0, 0, 0, 0, 0, 0, 0, 0, 0, 0, 0, 0, 0]
D_QMIX_EMAX = [-0.4, 0, 0.1, 0.4, 0.2, 0.15, 0.45, 0.55, 0.85, 1.2, 0.65, 1.0, 0.75, 1.5, 1.4, 1.7, 2.0, 2.3, 1.9, 2.5, 2.25]
D_QMIX_EMAX_LO = [-0.55, -0.1, 0, 0, 0, 0, 0, 0, 0, 0, 0, 0, 0.1, 0.2, 0.3, 0.5, 0.7, 0.9, 1.1, 1.0, 1.05]
D_QMIX_EMAX_HI = [-0.2, 0.3, 1.4, 0.8, 0.5, 0.6, 0.9, 1.0, 1.0, 1.9, 1.1, 1.5, 2.1, 2.6, 2.6, 3.0, 3.6, 3.2, 3.0, 3.9, 3.2]
D_QMIX_EMC = [-0.3, 0, 0.15, 0.25, 0.2, 0.25, 0.25, 0.3, 0.25, 0.25, 0.3, 0.25, 0.25, 0.3, 0.25, 0.25, 0.22, 0.22, 0.25, 0.25, 0.15]
D_QMIX_EMC_LO = [-0.45, -0.1, 0, 0, 0, 0, 0, 0, 0, 0, 0, 0, 0, 0, 0, 0, 0, 0, 0, 0, 0]
D_QMIX_EMC_HI = [-0.2, 0.3, 0.75, 0.8, 0.75, 0.8, 0.8, 0.85, 0.8, 0.75, 0.7, 0.75, 0.7, 0.7, 0.7, 0.8, 0.8, 0.8, 0.8, 0.75, 0.75]

Y_TICKS_AB = [0, 1, 2]
Y_TICKS_C = [0, 0.5, 1.0]
Y_TICKS_D = [0, 1, 2, 3]
X_TICKS = [0, 5e6, 1e7]
X_TICK_TEXT = ["0.0", "0.5", "1.0"]

# ---------------- styling / layout ----------------
COLORS = ["#4878d0", "#ee854a", "#956cb4", "#8c613c", "#dc7ec0", "#797979", "#d5bb67"]
FONT = "DejaVu Sans"
SERIF = "Liberation Serif"
GRID = "#c4c4c4"

GROUPS = [
    dict(key="A", caption="(a) BPUSH 8x8 2ag", lefts=[62.9, 245.9, 428.9], width=168.7,
         top=92.3, bottom=270.5, yr=[-0.17, 2.92], yt=Y_TICKS_AB, ytt=["0", "1", "2"],
         spine_y=283.5, spine_x=50.5, ylab_x=21, title_y=76, xlab_y=316, e7_y=316, cap=(295, 338)),
    dict(key="B", caption="(b) BPUSH 12x12 2ag", lefts=[684.2, 867.0, 1050.2], width=168.7,
         top=92.3, bottom=271, yr=[-0.10, 2.54], yt=Y_TICKS_AB, ytt=["0", "1", "2"],
         spine_y=284, spine_x=671, ylab_x=641, title_y=76, xlab_y=316, e7_y=316, cap=(932, 338)),
    dict(key="C", caption="(c) BPUSH 20x20 2ag", lefts=[78.1, 255.4, 434.1], width=163.8,
         top=418.3, bottom=592.3, yr=[-0.079, 1.40], yt=Y_TICKS_C, ytt=["0.0", "0.5", "1.0"],
         spine_y=605, spine_x=65, ylab_x=21, title_y=404, xlab_y=638, e7_y=638, cap=(297, 685)),
    dict(key="D", caption="(d) BPUSH 5x5 4ag", lefts=[684.2, 866.9, 1050.2], width=168.7,
         top=415.7, bottom=594.3, yr=[-0.61, 3.88], yt=Y_TICKS_D, ytt=["0", "1", "2", "3"],
         spine_y=607.3, spine_x=671.7, ylab_x=641, title_y=400, xlab_y=641, e7_y=641, cap=(922, 688)),
]
X_RANGE = [-0.52e6, 10.33e6]


def px(x):
    return x / W


def py(y):
    return 1 - y / H


def rgba(hex_color, a):
    h = hex_color.lstrip("#")
    return "rgba(%d,%d,%d,%.2f)" % (int(h[0:2], 16), int(h[2:4], 16), int(h[4:6], 16), a)


def lookup(name):
    return globals().get(name)


fig = go.Figure()
layout = dict(width=W, height=H, margin=dict(l=0, r=0, t=0, b=0),
              paper_bgcolor="white", plot_bgcolor="white", showlegend=False,
              font=dict(family=FONT, color="black"))
annotations = []
shapes = []

n = 0
for g in GROUPS:
    for p, algo in enumerate(ALGOS):
        n += 1
        xa = "x" if n == 1 else "x%d" % n
        ya = "y" if n == 1 else "y%d" % n
        for s, (label, key) in enumerate(zip(SERIES, SERIES_KEYS)):
            base = "%s_%s_%s" % (g["key"], algo, key)
            mean = lookup(base)
            lo = lookup(base + "_LO")
            hi = lookup(base + "_HI")
            if mean is None:
                if g["key"] == "D":
                    mean, lo, hi = D_BASE, D_BASE_LO, D_BASE_HI
                else:
                    mean = ZERO
            if hi is not None:
                if lo is None:
                    lo = ZERO
                fig.add_trace(go.Scatter(
                    x=TIMESTEPS + TIMESTEPS[::-1], y=list(hi) + list(lo)[::-1],
                    fill="toself", fillcolor=rgba(COLORS[s], 0.28), line=dict(width=0),
                    mode="lines", hoverinfo="skip", xaxis=xa, yaxis=ya, showlegend=False))
            fig.add_trace(go.Scatter(
                x=TIMESTEPS, y=mean, mode="lines", name=label,
                line=dict(color=COLORS[s], width=2.6), xaxis=xa, yaxis=ya, showlegend=False))

        left = g["lefts"][p]
        right = left + g["width"]
        xkey = "xaxis" if n == 1 else "xaxis%d" % n
        ykey = "yaxis" if n == 1 else "yaxis%d" % n
        layout[xkey] = dict(
            domain=[px(left), px(right)], anchor="free", position=py(g["spine_y"]),
            range=X_RANGE, tickmode="array", tickvals=X_TICKS, ticktext=X_TICK_TEXT,
            showline=True, linecolor="black", linewidth=3, showgrid=True, gridcolor=GRID,
            gridwidth=1, zeroline=False, ticks="",
            tickfont=dict(size=16, family=FONT, color="black"))
        ydict = dict(
            domain=[py(g["bottom"]), py(g["top"])], range=g["yr"], tickmode="array",
            tickvals=g["yt"], ticktext=g["ytt"], showgrid=True, gridcolor=GRID, gridwidth=1,
            zeroline=False, tickfont=dict(size=16, family=FONT, color="black"))
        if p == 0:
            ydict.update(anchor="free", position=px(g["spine_x"]), showline=True,
                         linecolor="black", linewidth=3, showticklabels=True,
                         ticks="outside", ticklen=4, tickcolor="rgba(0,0,0,0)")
        else:
            ydict.update(anchor=xa, showline=False, showticklabels=False, ticks="")
        layout[ykey] = ydict

        # panel title and offset text
        annotations.append(dict(text=algo, x=px((left + right) / 2), y=py(g["title_y"]),
                                xref="paper", yref="paper", showarrow=False,
                                xanchor="center", yanchor="middle",
                                font=dict(size=24, family=FONT, color="black")))
        annotations.append(dict(text="1e7", x=px(right - 1), y=py(g["e7_y"]),
                                xref="paper", yref="paper", showarrow=False,
                                xanchor="right", yanchor="middle", borderpad=0,
                                font=dict(size=13, family=FONT, color="black")))
        if p == 1:
            annotations.append(dict(text="Timesteps", x=px((left + right) / 2), y=py(g["xlab_y"]),
                                    xref="paper", yref="paper", showarrow=False,
                                    xanchor="center", yanchor="middle", borderpad=0,
                                    font=dict(size=15, family=FONT, color="black")))
    annotations.append(dict(text="Evaluation returns", x=px(g["ylab_x"]),
                            y=py((g["top"] + g["bottom"]) / 2), xref="paper", yref="paper",
                            showarrow=False, textangle=-90, xanchor="center", yanchor="middle",
                            font=dict(size=16, family=FONT, color="black")))
    annotations.append(dict(text=g["caption"], x=px(g["cap"][0]), y=py(g["cap"][1]),
                            xref="paper", yref="paper", showarrow=False,
                            xanchor="center", yanchor="middle", borderpad=0,
                            font=dict(size=22, family=SERIF, color="black")))

# ---------------- legend (drawn as a framed row) ----------------
LEG_LINE_X = [17, 213, 467, 642, 787, 933, 1083]
LEG_Y = 21
bx0, bx1, by0, by1, r = 12, 1230, 4, 38, 4
path = ("M %f,%f L %f,%f Q %f,%f %f,%f L %f,%f Q %f,%f %f,%f L %f,%f Q %f,%f %f,%f "
        "L %f,%f Q %f,%f %f,%f Z") % (
    px(bx0 + r), py(by0), px(bx1 - r), py(by0), px(bx1), py(by0), px(bx1), py(by0 + r),
    px(bx1), py(by1 - r), px(bx1), py(by1), px(bx1 - r), py(by1),
    px(bx0 + r), py(by1), px(bx0), py(by1), px(bx0), py(by1 - r),
    px(bx0), py(by0 + r), px(bx0), py(by0), px(bx0 + r), py(by0))
shapes.append(dict(type="path", path=path, xref="paper", yref="paper",
                   line=dict(color="#d0d0d0", width=1), fillcolor="rgba(255,255,255,0.8)"))
for s, label in enumerate(SERIES):
    x0 = LEG_LINE_X[s]
    shapes.append(dict(type="line", xref="paper", yref="paper", x0=px(x0), x1=px(x0 + 46),
                       y0=py(LEG_Y), y1=py(LEG_Y), line=dict(color=COLORS[s], width=3)))
    annotations.append(dict(text=label, x=px(x0 + 59), y=py(LEG_Y), xref="paper", yref="paper",
                            showarrow=False, xanchor="left", yanchor="middle",
                            font=dict(size=21, family=FONT, color="black")))

layout["annotations"] = annotations
layout["shapes"] = shapes
fig.update_layout(**layout)

fig.write_html("out.html", config={"displayModeBar": False},
               post_script="document.body.style.margin='0px';")
